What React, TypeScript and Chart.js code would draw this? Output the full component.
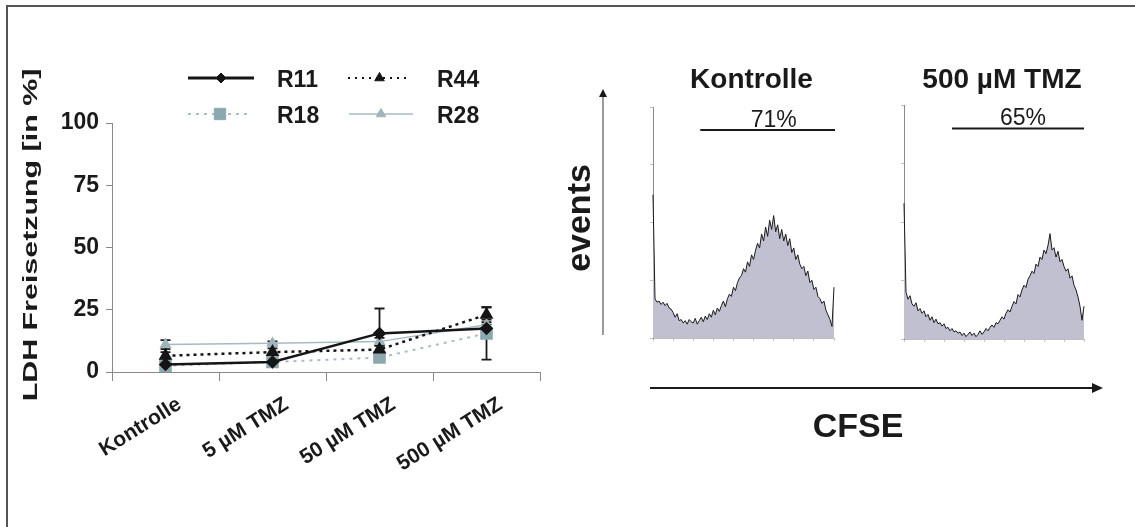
import React, { useEffect, useRef } from 'react';
import { Chart, registerables } from 'chart.js';
import { drawPoint } from 'chart.js/helpers';

Chart.register(...registerables);

// ---------- data ----------
const categories = ['Kontrolle', '5 µM TMZ', '50 µM TMZ', '500 µM TMZ'];
const seriesNames = ['R11', 'R44', 'R18', 'R28'];
const r11 = [3, 4, 15.5, 17.5];
const r11Err = [0.5, 0.5, 10, 1.5];
const r44 = [6.5, 8, 9, 23];
const r44Err = [1.5, 1.5, 1.5, 3];
const r18 = [2.5, 4, 5.8, 15.5];
const r18Err = [0.5, 0.5, 1, 10.5];
const r28 = [11, 11.5, 12.2, 19];
const r28Err = [1.8, 0.8, 1.5, 2];
const yTickStep = 25;
const yMax = 100;
const yTitle = 'LDH Freisetzung [in %]';

const histTitles = ['Kontrolle', '500 µM TMZ'];
const histKontrolle = [
  62,
  17, 15.5, 16, 14.5, 15.5,
  14, 15, 13, 12.5, 11,
  9, 10.5, 7.5, 8, 6.5,
  7.5, 6, 8, 7, 6.5, 8.5, 6, 7.5, 9, 7,
  9.5, 8, 10.5, 9, 12, 10, 13, 11.5, 14, 16, 13.5, 17, 19,
  18, 22, 20.5, 24, 26,
  27, 30, 28.5, 33, 31, 36, 34, 38, 41, 39,
  45, 42, 48, 44, 51, 47, 53,
  46, 49, 43, 47, 42, 45,
  40, 43, 37, 39, 34, 36, 32, 30,
  31, 27, 29, 24, 25, 21, 22, 18,
  17, 15, 16, 12, 10, 8, 5,
  22,
];
const histTmz = [
  58,
  20, 17, 18.5, 15,
  14, 15.5, 12, 13, 11,
  12, 9.5, 10.5, 8, 9.5, 7, 8.5, 6.5,
  7, 5.5, 6.5, 4.5, 5, 3.5, 4.5, 3, 3.5,
  2.5, 3, 1.5, 2.5, 1, 2, 3, 1.5, 2.5, 1, 2, 3.5, 2,
  3, 4.5, 3.5, 5, 6, 5, 7, 6.5, 8,
  9.5, 8.5, 11, 12.5, 11.5, 14, 16, 15,
  19, 18, 21, 23, 22, 25.5, 27,
  29, 28, 32, 31, 35, 34,
  38, 36.5, 40, 45, 38,
  39, 35, 37.5, 33, 34, 31,
  29, 30, 26, 27, 23, 21,
  18, 14, 8,
  14,
];
const gateKontrolle = [23.5, 90.5];
const gateTmz = [24, 90];
const gateLevel = 90;
const gateLabels = ['71%', '65%'];
const gateLabelPos = [60, 59.5];
const axisLabelY = 'events';
const axisLabelX = 'CFSE';

// ---------- styles ----------
const FONT = '"Liberation Sans", Arial, Helvetica, sans-serif';
const INK = '#1a1a1a';

const errorSets = [r11Err, r44Err, r18Err, r28Err];

const errorBarPlugin = {
  id: 'errorBars',
  beforeDatasetsDraw(chart: any) {
    const ctx = chart.ctx;
    const ys = chart.scales.y;
    chart.data.datasets.forEach((ds: any, i: number) => {
      const meta = chart.getDatasetMeta(i);
      const errs = errorSets[i];
      meta.data.forEach((pt: any, j: number) => {
        const v = ds.data[j];
        const e = errs[j];
        const top = ys.getPixelForValue(v + e);
        const bot = ys.getPixelForValue(Math.max(v - e, 0));
        ctx.save();
        ctx.strokeStyle = INK;
        ctx.lineWidth = 1.8;
        ctx.beginPath();
        ctx.moveTo(pt.x, top);
        ctx.lineTo(pt.x, bot);
        ctx.moveTo(pt.x - 5, top);
        ctx.lineTo(pt.x + 5, top);
        ctx.moveTo(pt.x - 5, bot);
        ctx.lineTo(pt.x + 5, bot);
        ctx.stroke();
        ctx.restore();
      });
    });
  },
};

const legendLayout = [
  { x0: 188, x1: 254, y: 78, tx: 277 },
  { x0: 348, x1: 411, y: 78, tx: 437 },
  { x0: 188, x1: 252, y: 114, tx: 277 },
  { x0: 349, x1: 413, y: 114, tx: 437 },
];

const legendPlugin = {
  id: 'customLegend',
  afterDraw(chart: any) {
    const ctx = chart.ctx;
    chart.data.datasets.forEach((ds: any, i: number) => {
      const L = legendLayout[i];
      ctx.save();
      ctx.strokeStyle = ds.borderColor;
      ctx.lineWidth = ds.legendLineWidth;
      ctx.setLineDash(ds.legendDash || []);
      ctx.beginPath();
      ctx.moveTo(L.x0, L.y);
      ctx.lineTo(L.x1, L.y);
      ctx.stroke();
      ctx.setLineDash([]);
      ctx.fillStyle = ds.pointBackgroundColor;
      ctx.strokeStyle = ds.pointBorderColor;
      ctx.lineWidth = 1;
      drawPoint(ctx, { pointStyle: ds.pointStyle, radius: ds.legendRadius, rotation: 0, borderWidth: 1 }, (L.x0 + L.x1) / 2, L.y);
      ctx.fillStyle = INK;
      ctx.font = `bold 23px ${FONT}`;
      ctx.textAlign = 'left';
      ctx.textBaseline = 'alphabetic';
      ctx.fillText(ds.label, L.tx, L.y + 9);
      ctx.restore();
    });
  },
};

const yTitlePlugin = {
  id: 'yTitle',
  afterDraw(chart: any) {
    const ctx = chart.ctx;
    ctx.save();
    ctx.translate(37, 235);
    ctx.rotate(-Math.PI / 2);
    ctx.scale(1.52, 1);
    ctx.font = `bold 20px ${FONT}`;
    ctx.fillStyle = INK;
    ctx.textAlign = 'center';
    ctx.textBaseline = 'alphabetic';
    ctx.fillText(yTitle, 0, 0);
    ctx.restore();
  },
};

function makeGatePlugin(gate: number[], label: string, labelPos: number, title: string, withAxes: boolean) {
  return {
    id: 'gate',
    afterDraw(chart: any) {
      const ctx = chart.ctx;
      const xs = chart.scales.x;
      const ys = chart.scales.y;
      const area = chart.chartArea;
      const gy = ys.getPixelForValue(gateLevel);
      ctx.save();
      ctx.strokeStyle = INK;
      ctx.lineWidth = 2;
      ctx.beginPath();
      ctx.moveTo(xs.getPixelForValue(gate[0]), gy);
      ctx.lineTo(xs.getPixelForValue(gate[1]), gy);
      ctx.stroke();
      ctx.fillStyle = INK;
      ctx.font = `23px ${FONT}`;
      ctx.textAlign = 'center';
      ctx.textBaseline = 'alphabetic';
      ctx.fillText(label, xs.getPixelForValue(labelPos), gy - 3);
      ctx.font = `bold 28px ${FONT}`;
      ctx.fillText(title, (area.left + area.right) / 2 + 8, 88);
      if (withAxes) {
        // vertical "events" arrow
        const ax = area.left - 50;
        ctx.strokeStyle = '#7a7a7a';
        ctx.lineWidth = 1.5;
        ctx.beginPath();
        ctx.moveTo(ax, area.bottom - 3);
        ctx.lineTo(ax, 96);
        ctx.stroke();
        ctx.fillStyle = INK;
        ctx.beginPath();
        ctx.moveTo(ax, 89);
        ctx.lineTo(ax - 4, 97);
        ctx.lineTo(ax + 4, 97);
        ctx.closePath();
        ctx.fill();
        // horizontal "CFSE" arrow
        const hy = 388;
        ctx.strokeStyle = INK;
        ctx.lineWidth = 2;
        ctx.beginPath();
        ctx.moveTo(area.left - 3, hy);
        ctx.lineTo(area.left + 440, hy);
        ctx.stroke();
        ctx.beginPath();
        ctx.moveTo(area.left + 450, hy);
        ctx.lineTo(area.left + 439, hy - 5);
        ctx.lineTo(area.left + 439, hy + 5);
        ctx.closePath();
        ctx.fill();
        ctx.font = `bold 34px ${FONT}`;
        ctx.textAlign = 'center';
        ctx.fillText(axisLabelX, area.left + 205, 437);
        ctx.save();
        ctx.translate(area.left - 63, 218);
        ctx.rotate(-Math.PI / 2);
        ctx.fillText(axisLabelY, 0, 0);
        ctx.restore();
      }
      ctx.restore();
    },
  };
}

function histConfig(values: number[], gate: number[], label: string, labelPos: number, title: string, padding: any, withAxes: boolean): any {
  return {
    type: 'line',
    data: {
      datasets: [
        {
          data: values.map((v, i) => ({ x: i, y: v })),
          borderColor: INK,
          borderWidth: 1,
          backgroundColor: '#c0c0d0',
          fill: 'origin',
          pointRadius: 0,
          tension: 0,
          clip: 3,
        },
      ],
    },
    options: {
      animation: false,
      responsive: false,
      maintainAspectRatio: false,
      layout: { padding },
      plugins: { legend: { display: false }, tooltip: { enabled: false } },
      scales: {
        x: {
          type: 'linear',
          min: 0,
          max: values.length - 1,
          ticks: { display: false, stepSize: 10 },
          grid: { drawOnChartArea: false, tickLength: 3, color: '#c8c8c8' },
          border: { color: '#bdbdbd' },
          afterFit(s: any) { s.height = 4; },
        },
        y: {
          min: 0,
          max: 100,
          ticks: { display: false, stepSize: 25 },
          grid: { drawOnChartArea: false, tickLength: 3, color: '#c0c0c0' },
          border: { color: '#8a8a8a' },
          afterFit(s: any) { s.width = 4; },
        },
      },
    },
    plugins: [makeGatePlugin(gate, label, labelPos, title, withAxes)],
  };
}

export default function App() {
  const lineRef = useRef<HTMLCanvasElement>(null);
  const h1Ref = useRef<HTMLCanvasElement>(null);
  const h2Ref = useRef<HTMLCanvasElement>(null);

  useEffect(() => {
    const font = { family: FONT, size: 23, weight: 'bold' as const };
    const xFont = { family: FONT, size: 21, weight: 'bold' as const };
    const lineChart = new Chart(lineRef.current!, {
      type: 'line',
      data: {
        labels: categories,
        datasets: [
          {
            label: seriesNames[0], data: r11, borderColor: '#151515', borderWidth: 2.5,
            pointStyle: 'rectRot', pointRadius: 5, pointBackgroundColor: '#151515', pointBorderColor: '#151515',
            legendRadius: 5, legendLineWidth: 3, legendDash: [],
          } as any,
          {
            label: seriesNames[1], data: r44, borderColor: '#151515', borderWidth: 2.5, borderDash: [3, 4],
            pointStyle: 'triangle', pointRadius: 5.5, pointBackgroundColor: '#151515', pointBorderColor: '#151515',
            legendRadius: 5.5, legendLineWidth: 2, legendDash: [2, 5],
          } as any,
          {
            label: seriesNames[2], data: r18, borderColor: '#a9bcc2', borderWidth: 2, borderDash: [3, 5],
            pointStyle: 'rect', pointRadius: 7.5, pointBackgroundColor: '#8ca8af', pointBorderColor: '#8ca8af',
            legendRadius: 8, legendLineWidth: 2, legendDash: [3, 5],
          } as any,
          {
            label: seriesNames[3], data: r28, borderColor: '#a6bac0', borderWidth: 1.5,
            pointStyle: 'triangle', pointRadius: 5.5, pointBackgroundColor: '#a0b5bb', pointBorderColor: '#a0b5bb',
            legendRadius: 5.5, legendLineWidth: 1.5, legendDash: [],
          } as any,
        ],
      },
      options: {
        animation: false,
        responsive: false,
        maintainAspectRatio: false,
        layout: { padding: { top: 123, right: 20, bottom: 0, left: 0 } },
        plugins: { legend: { display: false }, tooltip: { enabled: false } },
        scales: {
          x: {
            offset: true,
            grid: { offset: true, drawOnChartArea: false, tickLength: 9, color: '#8a8a8a' },
            border: { color: '#8a8a8a' },
            ticks: { autoSkip: false, maxRotation: 32, minRotation: 32, padding: 11, labelOffset: 14, font: xFont, color: INK },
            afterFit(s: any) { s.height = 155; },
          },
          y: {
            min: 0,
            max: yMax,
            ticks: { stepSize: yTickStep, padding: 7, font, color: INK },
            grid: { drawOnChartArea: false, tickLength: 6, color: '#8a8a8a' },
            border: { color: '#8a8a8a' },
            afterFit(s: any) { s.width = 112; },
          },
        },
      },
      plugins: [errorBarPlugin, legendPlugin, yTitlePlugin],
    });

    const h1 = new Chart(
      h1Ref.current!,
      histConfig(histKontrolle, gateKontrolle, gateLabels[0], gateLabelPos[0], histTitles[0],
        { top: 107, left: 109, right: 301, bottom: 185 }, true)
    );
    const h2 = new Chart(
      h2Ref.current!,
      histConfig(histTmz, gateTmz, gateLabels[1], gateLabelPos[1], histTitles[1],
        { top: 105, left: 40, right: 51, bottom: 184 }, false)
    );
    return () => {
      lineChart.destroy();
      h1.destroy();
      h2.destroy();
    };
  }, []);

  return (
    <div style={{ position: 'absolute', left: 0, top: 0, width: 1135, height: 527, background: '#fff', overflow: 'hidden' }}>
      <div style={{ position: 'absolute', left: 6, top: 5, width: 1200, height: 600, borderTop: '2px solid #555', borderLeft: '2px solid #555' }} />
      <canvas ref={lineRef} width={560} height={527} style={{ position: 'absolute', left: 0, top: 0, width: 560, height: 527 }} />
      <canvas ref={h1Ref} width={595} height={527} style={{ position: 'absolute', left: 540, top: 0, width: 595, height: 527 }} />
      <canvas ref={h2Ref} width={275} height={527} style={{ position: 'absolute', left: 860, top: 0, width: 275, height: 527 }} />
    </div>
  );
}
